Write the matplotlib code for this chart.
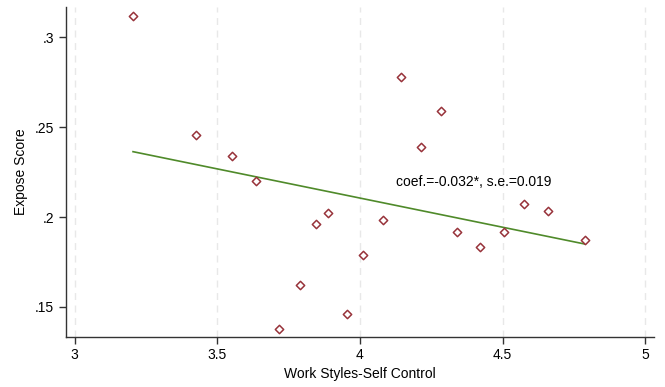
import matplotlib.pyplot as plt

plt.rcParams['font.family'] = ['Liberation Sans', 'DejaVu Sans']

# binned scatter values
self_control = [3.205, 3.425, 3.552, 3.636, 3.715, 3.791, 3.847, 3.890, 3.955, 4.012,
                4.080, 4.144, 4.214, 4.284, 4.342, 4.421, 4.504, 4.575, 4.661, 4.788]
expose = [0.3115, 0.2456, 0.2341, 0.2200, 0.1380, 0.1622, 0.1961, 0.2022, 0.1461, 0.1790,
          0.1982, 0.2778, 0.2387, 0.2589, 0.1915, 0.1833, 0.1915, 0.2072, 0.2032, 0.1874]

# fitted line endpoints
fit_x = [3.205, 4.788]
fit_y = [0.2363, 0.1850]

xticks = [3, 3.5, 4, 4.5, 5]
xticklabels = ['3', '3.5', '4', '4.5', '5']
yticks = [0.15, 0.2, 0.25, 0.3]
yticklabels = ['.15', '.2', '.25', '.3']

fig = plt.figure(figsize=(6.65, 3.87), dpi=100)
ax = fig.add_axes([0.0992, 0.13, 0.8843, 0.852])

for xv in xticks:
    ax.axvline(xv, color='#e8e8e8', lw=1, ls=(0, (5, 4)), zorder=0)

ax.plot(fit_x, fit_y, color='#4f8a2a', lw=1.2, zorder=2)
ax.scatter(self_control, expose, marker='D', s=18, facecolors='white',
           edgecolors='#98333b', linewidths=1.1, zorder=3)

ax.text(4.126, 0.2194, 'coef.=-0.032*, s.e.=0.019', fontsize=10, va='center', ha='left')

ax.set_xlim(2.97, 5.031)
ax.set_ylim(0.1335, 0.3167)
ax.set_xticks(xticks)
ax.set_xticklabels(xticklabels)
ax.set_yticks(yticks)
ax.set_yticklabels(yticklabels)
ax.tick_params(labelsize=10, length=5, width=1, color='#333333')

ax.spines['top'].set_visible(False)
ax.spines['right'].set_visible(False)
for s in ['left', 'bottom']:
    ax.spines[s].set_color('#333333')
    ax.spines[s].set_linewidth(1)

ax.set_xlabel('Work Styles-Self Control', fontsize=10, labelpad=3)
ax.set_ylabel('Expose Score', fontsize=10, labelpad=5)

fig.savefig('out.png', dpi=100)
